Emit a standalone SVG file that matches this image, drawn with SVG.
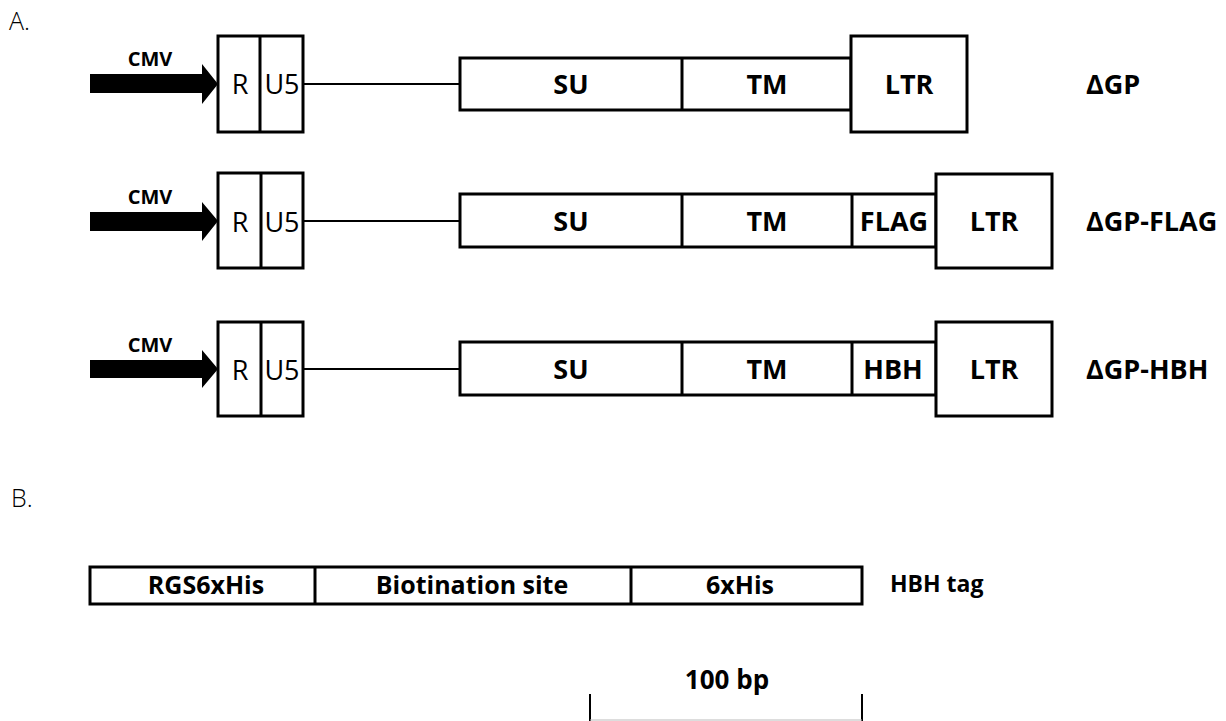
<svg xmlns="http://www.w3.org/2000/svg" width="1226" height="721" viewBox="0 0 1226 721">
<style>
.box{fill:#fff;stroke:#000;stroke-width:3;stroke-linejoin:miter}
.ln{stroke:#000;stroke-width:2;fill:none}
.dv{stroke:#000;stroke-width:3;fill:none}
.lt{font-family:"Open Sans","Liberation Sans",sans-serif;font-weight:400;font-size:27px;fill:#000;text-anchor:middle}
.bd{font-family:"Open Sans","Liberation Sans",sans-serif;font-weight:700;font-size:27px;fill:#000;text-anchor:middle}
.lab{font-family:"Open Sans","Liberation Sans",sans-serif;font-weight:700;font-size:27px;fill:#000}
.bd.tg{font-size:25px}
.lab.tg{font-size:23px}
.bd.sb{font-size:26px}
.cmv{font-family:"Open Sans","Liberation Sans",sans-serif;font-weight:700;font-size:20px;fill:#000;text-anchor:middle}
.sec{font-family:"Open Sans","Liberation Sans",sans-serif;font-weight:300;font-size:25px;fill:#000}
.arrow{fill:#000}
</style>
<rect width="1226" height="721" fill="#fff"/>
<text class="sec" x="9" y="30">A.</text>
<text class="sec" x="11" y="507">B.</text>

<g id="connectors">
<line class="ln" x1="303" y1="84" x2="460" y2="84"/>
<line class="ln" x1="303" y1="221" x2="460" y2="221"/>
<line class="ln" x1="303" y1="369" x2="460" y2="369"/>
</g>

<g id="row1">
<polygon class="arrow" points="90,74 202,74 202,64 218,84 202,104 202,93 90,93"/>
<text class="cmv" x="150" y="66">CMV</text>
<rect class="box" x="218" y="36" width="85" height="96"/>
<line class="dv" x1="260" y1="36" x2="260" y2="132"/>
<text class="lt" x="240" y="94">R</text>
<text class="lt" x="282" y="94">U5</text>
<rect class="box" x="460" y="58" width="391" height="52"/>
<line class="dv" x1="682" y1="58" x2="682" y2="110"/>
<text class="bd" x="571" y="94">SU</text>
<text class="bd" x="767" y="94">TM</text>
<rect class="box" x="851" y="36" width="116" height="96"/>
<text class="bd" x="909" y="94">LTR</text>
<text class="lab" x="1086" y="94">ΔGP</text>
</g>

<g id="row2">
<polygon class="arrow" points="90,212 202,212 202,202 218,221 202,241 202,231 90,231"/>
<text class="cmv" x="150" y="204">CMV</text>
<rect class="box" x="218" y="173" width="85" height="95"/>
<line class="dv" x1="261" y1="173" x2="261" y2="268"/>
<text class="lt" x="240" y="232">R</text>
<text class="lt" x="282" y="232">U5</text>
<rect class="box" x="460" y="194" width="476" height="53"/>
<line class="dv" x1="682" y1="194" x2="682" y2="247"/>
<line class="dv" x1="852" y1="194" x2="852" y2="247"/>
<text class="bd" x="571" y="231">SU</text>
<text class="bd" x="767" y="231">TM</text>
<text class="bd" x="894" y="231">FLAG</text>
<rect class="box" x="936" y="174" width="116" height="94"/>
<text class="bd" x="994" y="231">LTR</text>
<text class="lab" x="1086" y="231">ΔGP-FLAG</text>
</g>

<g id="row3">
<polygon class="arrow" points="90,360 202,360 202,350 218,369 202,388 202,378 90,378"/>
<text class="cmv" x="150" y="352">CMV</text>
<rect class="box" x="218" y="322" width="85" height="94"/>
<line class="dv" x1="261" y1="322" x2="261" y2="416"/>
<text class="lt" x="240" y="380">R</text>
<text class="lt" x="282" y="380">U5</text>
<rect class="box" x="460" y="342" width="476" height="53"/>
<line class="dv" x1="682" y1="342" x2="682" y2="395"/>
<line class="dv" x1="852" y1="342" x2="852" y2="395"/>
<text class="bd" x="571" y="379">SU</text>
<text class="bd" x="767" y="379">TM</text>
<text class="bd" x="893" y="379">HBH</text>
<rect class="box" x="936" y="322" width="116" height="94"/>
<text class="bd" x="994" y="379">LTR</text>
<text class="lab" x="1086" y="379">ΔGP-HBH</text>
</g>

<g id="hbh">
<rect class="box" x="90" y="567" width="772" height="37"/>
<line class="dv" x1="315" y1="567" x2="315" y2="604"/>
<line class="dv" x1="631" y1="567" x2="631" y2="604"/>
<text class="bd tg" x="206" y="594">RGS6xHis</text>
<text class="bd tg" x="472" y="594">Biotination site</text>
<text class="bd tg" x="740" y="594">6xHis</text>
<text class="lab tg" x="890" y="592">HBH tag</text>
</g>

<g id="scalebar">
<line class="ln" x1="590" y1="694" x2="590" y2="721"/>
<line class="ln" x1="862" y1="694" x2="862" y2="721"/>
<line x1="590" y1="720" x2="862" y2="720" stroke="#bbb" stroke-width="1"/>
<text class="bd sb" x="727" y="689">100 bp</text>
</g>
</svg>
